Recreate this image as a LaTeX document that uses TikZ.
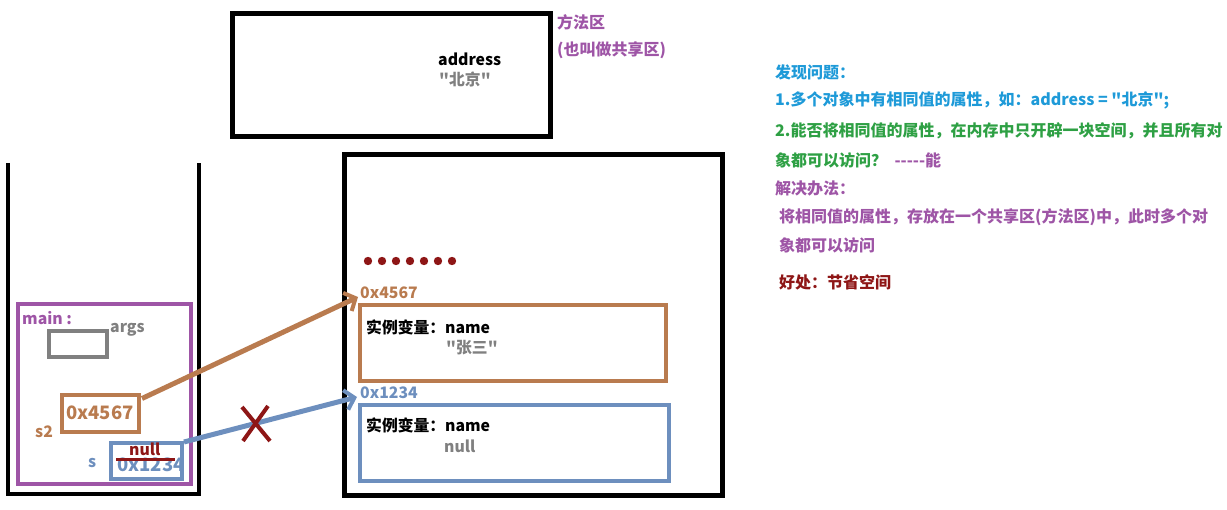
\documentclass[tikz,border=0pt]{standalone}
\usepackage{fontspec}
\newfontfamily\cjkf{Noto Sans CJK SC}
\usetikzlibrary{arrows.meta}
\definecolor{cpurple}{HTML}{9E55A6}
\definecolor{corange}{HTML}{B97B4F}
\definecolor{cblue}{HTML}{6D8FBE}
\definecolor{cgray}{HTML}{808080}
\definecolor{cdred}{HTML}{8E1616}
\definecolor{ccyan}{HTML}{1E9AD8}
\definecolor{cgreen}{HTML}{2EA044}
\tikzset{
  txt/.style={anchor=west,inner sep=0pt,font=\cjkf\fontsize{16}{18}\selectfont\bfseries},
  stxt/.style={anchor=west,inner sep=0pt,font=\cjkf\fontsize{15.8}{18}\selectfont\bfseries},
  btxt/.style={anchor=west,inner sep=0pt,font=\cjkf\fontsize{18.5}{20}\selectfont\bfseries},
  boxn/.style={draw,rectangle,inner sep=0pt},
  ptr/.style={line width=5pt,-{Straight Barb[length=9pt,width=20pt,line width=4pt]}},
}
\begin{document}
\begin{tikzpicture}[x=1pt,y=-1pt]
\useasboundingbox (0,0) rectangle (1227,510);
% method area
\node[boxn,line width=5pt,minimum width=318pt,minimum height=123pt] (method) at (391,75.5) {};
\node[txt,text=cpurple] (mlabel) at (557,22) {方法区};
\node[txt,text=cpurple] (mlabel2) at (557,50) {(也叫做共享区)};
\node[stxt] (addr) at (438,59) {address};
\node[stxt,text=cgray] (addrv) at (439,79) {"北京"};
% stack
\draw[line width=4pt] (8,163) -- (8,494) -- (199,494) -- (199,163);
\node[boxn,draw=cpurple,line width=4pt,minimum width=173pt,minimum height=180pt] (mainbox) at (104.5,394) {};
\node[stxt,text=cpurple] (mainlbl) at (22,318) {main :};
\node[boxn,draw=cgray,line width=4pt,minimum width=58pt,minimum height=26pt] (argsbox) at (78,344) {};
\node[stxt,text=cgray] (argslbl) at (110,330) {args};
\node[boxn,draw=corange,line width=4pt,minimum width=77pt,minimum height=37pt] (s2box) at (100.5,413.5) {};
\node[btxt,text=corange] (s2val) at (66,413) {0x4567};
\node[stxt,text=corange] (s2lbl) at (35,432) {s2};
\node[boxn,draw=cblue,line width=4pt,minimum width=71pt,minimum height=36pt] (sbox) at (146.5,461) {};
\node[btxt,text=cblue] (sval) at (117,465) {0x1234};
\node[stxt,text=cblue] (slbl) at (88,463) {s};
\draw[cdred,line width=3pt] (sbox.west) ++(7,-1) coordinate (strA) -- ++(59,0) coordinate (strB);
\node[stxt,text=cdred] (snull) at (129,449.5) {null};
% heap
\node[boxn,line width=5pt,minimum width=378pt,minimum height=341pt] (heap) at (533,325.5) {};
\foreach \i in {0,...,6} {
  \fill[cdred] (368+\i*14,261) circle (4.2pt);
}
\node[stxt,text=corange] (o1addr) at (360,293) {0x4567};
\node[boxn,draw=corange,line width=4pt,minimum width=306pt,minimum height=76pt] (obj1) at (513,343) {};
\node[stxt] (o1var) at (366,327) {实例变量：name};
\node[stxt,text=cgray] (o1val) at (446,348) {"张三"};
\node[stxt,text=cblue] (o2addr) at (360,393) {0x1234};
\node[boxn,draw=cblue,line width=4pt,minimum width=309pt,minimum height=76pt] (obj2) at (514.5,443) {};
\node[stxt] (o2var) at (366,425) {实例变量：name};
\node[stxt,text=cgray] (o2val) at (444,446) {null};
% pointers
\coordinate (tip1) at (358,297);
\coordinate (tip2) at (357,397);
\draw[ptr,draw=corange] ([xshift=1pt,yshift=15pt]s2box.east) -- (tip1);
\draw[ptr,draw=cblue] ([xshift=0pt,yshift=19pt]sbox.east) -- (tip2);
% cross
\draw[cdred,line width=4pt] (242,407) -- (270,441) (268,406) -- (243,441);
% right text
\node[txt,text=ccyan] (t1) at (775,72) {发现问题：};
\node[txt,text=ccyan] (t2) at (775,100) {1.多个对象中有相同值的属性，如：address = "北京";};
\node[txt,text=cgreen] (t3) at (775,131) {2.能否将相同值的属性，在内存中只开辟一块空间，并且所有对};
\node[txt,text=cgreen] (t4) at (775,160) {象都可以访问？\ \ \textcolor{cpurple}{-----能}};
\node[txt,text=cpurple] (t5) at (775,188) {解决办法：};
\node[txt,text=cpurple] (t6) at (779,217) {将相同值的属性，存放在一个共享区(方法区)中，此时多个对};
\node[txt,text=cpurple] (t7) at (779,245) {象都可以访问};
\node[txt,text=cdred] (t8) at (779,282) {好处：节省空间};
\end{tikzpicture}
\end{document}
